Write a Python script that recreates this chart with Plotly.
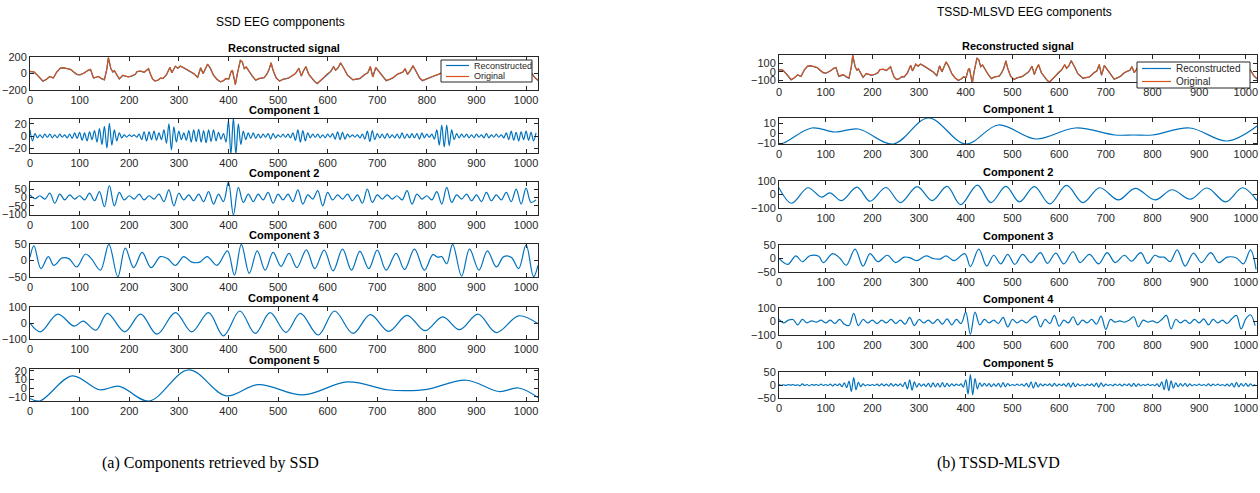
import plotly.graph_objects as go

W, H = 1260, 493

# ---------------- data ----------------
# Reconstructed / original EEG signal (same recording in both panels)
sig_x = [0, 8, 15, 26, 33, 40, 47, 54, 61, 68, 75, 82, 89, 95, 101, 110, 117, 122, 128, 133, 138, 144, 150,
         155, 158, 163, 167, 170, 175, 180, 187, 193, 198, 205, 212, 216, 223, 230, 235, 239, 243, 247, 252,
         258, 263, 268, 275, 279, 282, 286, 290, 293, 298, 303, 310, 321, 330, 338, 344, 349, 353, 358, 363,
         370, 377, 384, 390, 395, 401, 405, 408, 411, 414, 418, 424, 428, 432, 436, 440, 448, 455, 462, 472,
         478, 482, 486, 490, 496, 503, 510, 521, 530, 535, 542, 547, 551, 556, 562, 567, 573, 579, 585, 591,
         598, 606, 612, 616, 621, 626, 633, 640, 651, 658, 665, 675, 681, 686, 691, 697, 704, 711, 718, 725,
         732, 740, 746, 752, 756, 761, 767, 772, 778, 785, 791, 800, 809, 816, 823, 832, 842, 850, 858, 866,
         874, 882, 890, 898, 906, 914, 922, 930, 940, 950, 958, 966, 975, 985, 995, 1003, 1010, 1017, 1024]
original_y = [25, 20, -20, -90, -70, -35, -55, 20, 65, 70, 60, 50, 15, -10, -15, 10, 40, 50, -55, -40, -35, -60, -75,
              60, 195, 60, 20, 35, -10, -65, -20, -30, -40, -30, -10, 25, 30, 15, 40, 60, -10, -65, -90,
              -80, -55, -60, -15, 30, 75, 10, 60, 90, 65, 90, 70, 30, 0, -45, 70, 0, 60, 115, 70,
              -20, -70, -100, -85, -60, -65, 20, 40, -60, -135, 0, 160, 140, 60, 80, 40, -30, -80, -60, -50,
              0, 50, 130, 40, -50, -90, -70, -55, -20, 0, 65, -30, 30, 85, -10, -50, -90, -120, -90, -55,
              -10, 25, 85, 40, 70, 130, 60, -20, -75, -70, -60, -10, 10, 85, -40, 75, 20, -40, -85, -70,
              -50, -10, 10, 20, 60, -10, 40, 95, 30, -50, -85, -60, -40, -25, -10, 20, 45, 10, -20, 30,
              -10, -50, -20, 30, 60, 10, -30, -60, -20, 20, -10, 30, 70, 20, -10, 50, 20, -45, -80]
reconstructed_y = [22, 18, -22, -95, -72, -37, -55, 18, 62, 68, 58, 47, 12, -13, -17, 8, 38, 48, -55, -42, -37, -62, -77,
                   57, 190, 58, 18, 33, -12, -66, -22, -32, -42, -32, -12, 23, 28, 13, 38, 57, -12, -66, -92,
                   -82, -57, -62, -17, 28, 72, 8, 58, 87, 63, 87, 68, 28, -2, -47, 67, -2, 58, 112, 68,
                   -22, -72, -102, -87, -62, -66, 18, 38, -62, -135, -2, 157, 138, 58, 78, 38, -32, -82, -62, -52,
                   -2, 48, 127, 38, -52, -92, -72, -57, -22, -2, 62, -32, 28, 82, -12, -52, -92, -125, -92, -57,
                   -12, 23, 82, 38, 68, 127, 58, -22, -77, -72, -62, -12, 8, 82, -42, 72, 18, -42, -87, -72,
                   -52, -12, 8, 18, 58, -12, 38, 92, 28, -52, -87, -62, -42, -27, -12, 18, 43, 8, -22, 28,
                   -12, -52, -22, 28, 58, 8, -32, -62, -22, 18, -12, 28, 68, 18, -12, 48, 18, -47, -85]

# SSD component 1 (sampled every 5 samples)
ssd_c1_x = list(range(0, 1021, 5))
ssd_c1_y = [10, -8, 4, -3, 2, -3, 3, -2, 3, -3, 2, -3, 3, -2, 2, -3, 3, -4, 5, -4,
            6, -7, 5, -8, 7, -6, 9, -10, 12, -14, 16, -20, 21, -15, 10, -8, 5, -3, 2, -2,
            2, -1, 2, -2, 3, -6, 7, -8, 7, -6, 8, -7, 5, -6, 10, -12, 20, -23, 15, -10,
            8, -6, 5, -7, 9, -10, 10, -9, 11, -10, 9, -11, 10, -9, 10, -8, 6, -5, 4, -10,
            25, -30, 30, -30, 20, -14, 8, -6, 5, -4, 5, -4, 3, -3, 3, -2, 4, -5, 4, -3,
            2, -2, 3, -2, 3, -3, 5, -7, 10, -10, 9, -8, 5, -3, 3, -2, 3, -3, 2, -3,
            3, -2, 4, -5, 7, -6, 6, -5, 3, -2, 2, -2, 2, -3, 3, -5, 8, -9, 9, -6,
            4, -3, 3, -4, 4, -3, 2, -3, 3, -4, 5, -4, 3, -3, 4, -3, 4, -5, 5, -3,
            3, -2, 3, -5, 10, -15, 18, -18, 18, -16, 10, -6, 4, -3, 3, -2, 3, -3, 2, -3,
            3, -2, 2, -3, 4, -3, 2, -2, 3, -2, 2, -3, 5, -6, 8, -7, 6, -8, 7, -6,
            8, -7, 6, -8, 5]

# SSD component 2 (sampled every 10 samples)
ssd_c2_x = list(range(0, 1021, 10))
ssd_c2_y = [15, -8, 10, -10, 25, -35, 20, -15, 15, -10,
            10, -15, 25, -20, 35, -55, 70, -50, 30, -15,
            10, -10, 20, -15, 10, -10, 20, -25, 45, -50,
            25, -15, 15, -20, 20, -25, 35, -40, 20, -25,
            92, -105, 60, -30, 20, -25, 20, -15, 30, -35,
            20, -15, 20, -25, 45, -40, 15, -10, 40, -50,
            30, -15, 15, -10, 20, -20, 15, -35, 50, -30,
            15, -10, 15, -10, 10, -15, 40, -40, 20, -10,
            10, -15, 35, -40, 60, -30, 15, -10, 20, -20,
            15, -25, 30, -20, 15, -15, 30, -25, 50, -40,
            55, -30, -15]

# SSD component 3
ssd_c3_x = [0, 8, 22, 37, 48, 65, 79, 94, 112, 124, 142, 159, 177, 192, 209, 226, 244, 263, 278, 293, 310,
            326, 342, 357, 377, 398, 412, 426, 442, 458, 474, 490, 506, 522, 538, 557, 574, 593, 611, 630,
            648, 665, 683, 700, 718, 738, 755, 775, 795, 812, 822, 830, 840, 852, 870, 886, 905, 922, 940,
            955, 970, 985, 1000, 1015, 1024]
ssd_c3_y = [10, 45, -25, 12, -15, 8, 5, -20, 20, 5, -30, 50, -50, 38, -22, 25, -22, 12, 5, -15, 12,
            -5, -5, 12, -15, 30, -45, 50, -40, 30, -30, 25, -18, 22, -22, 33, -25, 32, -32, 35,
            -30, 28, -25, 32, -30, 22, -28, 35, -30, 18, 10, 12, -10, 50, -48, 35, -30, 30, -20,
            12, 10, -25, 48, -50, -15]

# SSD component 4
ssd_c4_x = [0, 21, 56, 89, 107, 133, 156, 191, 223, 256, 293, 326, 360, 390, 423, 454, 484, 516, 545, 581,
            614, 651, 686, 723, 760, 796, 832, 866, 903, 940, 985, 1024]
ssd_c4_y = [0, -55, 55, -20, 12, -45, 60, -55, 55, -70, 65, -55, 65, -80, 75, -65, 65, -58, 60, -75,
            75, -65, 52, -52, 48, -48, 38, -42, 55, -60, 45, -5]

# SSD component 5
ssd_c5_x = [0, 20, 85, 140, 180, 240, 320, 395, 460, 550, 640, 720, 760, 800, 880, 945, 985, 1024]
ssd_c5_y = [-12, -15, 14, -2, 2, -15, 21, -9, 4, -8, 7, -2, -3, -1.5, 9, -4, 0, -11]

# TSSD-MLSVD component 1
tssd_c1_x = [0, 10, 70, 120, 170, 245, 320, 400, 470, 550, 635, 720, 760, 800, 880, 960, 1024]
tssd_c1_y = [-10.5, -10, 5, 1, 4, -11, 15, -11, 8, -6, 5, -2, -2, -2, 5, -8, 7]

# TSSD-MLSVD component 2
tssd_c2_x = [0, 27, 62, 91, 109, 134, 167, 195, 229, 260, 296, 328, 360, 389, 425, 454, 486, 515, 547, 580,
             616, 651, 687, 727, 763, 806, 842, 881, 917, 957, 993, 1024]
tssd_c2_y = [50, -65, 50, -20, 12, -45, 55, -50, 52, -60, 58, -45, 60, -75, 70, -60, 60, -55, 58, -70,
             68, -60, 50, -40, 45, -40, 35, -35, 48, -55, 50, -45]

# TSSD-MLSVD component 3
tssd_c3_x = [0, 19, 36, 50, 66, 85, 95, 115, 130, 144, 163, 180, 195, 212, 232, 250, 268, 280, 295, 315,
             330, 345, 358, 375, 398, 410, 428, 445, 460, 475, 490, 505, 522, 540, 560, 575, 593, 610, 630,
             645, 665, 685, 703, 720, 740, 755, 775, 790, 805, 815, 825, 838, 853, 870, 888, 905, 925, 942,
             960, 980, 995, 1010, 1022]
tssd_c3_y = [0, -22, 10, -12, 10, 8, -15, 18, 2, -25, 35, -28, 18, -12, 12, -15, 5, 3, -8, 10,
             0, -2, 10, -8, 18, -30, 35, -28, 12, -20, 15, -22, 15, -15, 22, -18, 20, -20, 25,
             -15, 15, -20, 22, -15, 12, -10, 22, -18, 12, 5, 5, -12, 32, -28, 20, -15, 22, -15,
             5, 2, -20, 32, -40]

# TSSD-MLSVD component 4 (sampled every 10 samples)
tssd_c4_x = list(range(0, 1021, 10))
tssd_c4_y = [15, -10, 10, 15, -25, 15, -10, 5, -5, 10,
             -10, 10, -15, 15, -20, -30, 60, -30, 15, -10,
             10, -15, 10, -10, 15, -15, 10, -20, 30, -30,
             15, -10, 10, -15, 15, -20, 20, -25, 15, -15,
             70, -95, 70, -25, 15, -10, 10, -15, 30, -40,
             15, -10, 10, -10, 20, 40, -40, 15, -15, 45,
             -35, 10, -10, 35, -25, 10, -10, 15, -20, 40,
             -60, 15, -5, 5, -5, 10, 35, -40, 10, -5,
             5, -10, 15, 45, -55, 15, -10, 10, -15, 15,
             -10, 20, -25, 15, -10, 10, -15, 20, 45, -55,
             20, 50, -30]

# TSSD-MLSVD component 5 (sampled every 5 samples)
tssd_c5_x = list(range(0, 1021, 5))
tssd_c5_y = [2, -1, 1, -2, 2, -1, 2, -2, 1, -3, 4, -2, 2, -3, 2, -1, 2, -2, 3, -2,
             2, -2, 3, -4, 3, -2, 4, -6, 8, -10, 15, -25, 28, -18, 10, -6, 4, -3, 2, -2,
             2, -2, 3, -3, 4, -3, 3, -4, 5, -4, 3, -3, 4, -6, 10, -15, 20, -20, 12, -8,
             5, -4, 3, -5, 6, -8, 8, -7, 6, -8, 9, -7, 6, -5, 4, -3, 3, -2, 4, -8,
             20, -35, 40, -38, 25, -15, 8, -5, 6, -4, 5, -6, 4, -5, 6, -8, 9, -7, 5, -3,
             2, -2, 3, -2, 3, -4, 6, -8, 12, -12, 10, -7, 4, -3, 3, -2, 4, -5, 6, -4,
             3, -2, 4, -5, 7, -8, 8, -6, 4, -3, 2, -3, 3, -2, 4, -5, 7, -8, 8, -5,
             3, -2, 2, -3, 3, -2, 3, -4, 3, -2, 4, -5, 6, -5, 4, -3, 2, -2, 3, -2,
             2, -3, 4, -6, 12, -18, 22, -22, 16, -12, 8, -6, 5, -4, 6, -5, 4, -3, 2, -2,
             3, -2, 2, -3, 4, -3, 3, -2, 3, -2, 2, -3, 3, -4, 6, -8, 10, -7, 5, -4,
             6, -5, 4, -3, 2]

subplot_titles = ["Reconstructed signal", "Component 1", "Component 2",
                  "Component 3", "Component 4", "Component 5"]
legend_labels = ["Reconstructed", "Original"]
x_ticks = [0, 100, 200, 300, 400, 500, 600, 700, 800, 900, 1000]

# ---------------- layout spec ----------------
BLUE = "#0072BD"
ORANGE = "#D95319"
AX = "#262626"
FONT = "Liberation Sans, Arial, sans-serif"

left_xdom = (30 / W, 538 / W)
right_xdom = (779 / W, 1257 / W)
left_rows = [(57, 90), (119, 153), (182, 215), (244, 277), (307, 339), (369, 401)]
right_rows = [(55, 82), (118, 144), (181, 208), (245, 272), (308, 335), (372, 398)]

left_ranges = [[-200, 200], [-28, 28], [-105, 92], [-51, 51], [-100, 100], [-15, 22]]
left_ticks = [[-200, 0, 200], [-20, 0, 20], [-100, -50, 0, 50], [-50, 0, 50], [-100, 0, 100], [-10, 0, 10, 20]]
right_ranges = [[-120, 195], [-11, 15], [-100, 100], [-50, 50], [-100, 100], [-50, 50]]
right_ticks = [[-100, 0, 100], [-10, 0, 10], [-100, 0, 100], [-50, 0, 50], [-100, 0, 100], [-50, 0, 50]]

left_series = [None, (ssd_c1_x, ssd_c1_y), (ssd_c2_x, ssd_c2_y), (ssd_c3_x, ssd_c3_y),
               (ssd_c4_x, ssd_c4_y), (ssd_c5_x, ssd_c5_y)]
right_series = [None, (tssd_c1_x, tssd_c1_y), (tssd_c2_x, tssd_c2_y), (tssd_c3_x, tssd_c3_y),
                (tssd_c4_x, tssd_c4_y), (tssd_c5_x, tssd_c5_y)]

# legend boxes (pixel boxes: left, top, right, bottom), font size, sample length
legend_boxes = [((441, 60, 532, 82), 9, 23), ((1137, 62, 1250, 88), 10, 29)]

fig = go.Figure()
layout = {}
annotations = []
shapes = []


def py(p):
    return 1 - p / H


def px(p):
    return p / W


ax_i = 0
for side, xdom, rows, ranges, ticks, series in [
        ("L", left_xdom, left_rows, left_ranges, left_ticks, left_series),
        ("R", right_xdom, right_rows, right_ranges, right_ticks, right_series)]:
    for r in range(6):
        ax_i += 1
        xa = "x" if ax_i == 1 else f"x{ax_i}"
        ya = "y" if ax_i == 1 else f"y{ax_i}"
        xkey = "xaxis" if ax_i == 1 else f"xaxis{ax_i}"
        ykey = "yaxis" if ax_i == 1 else f"yaxis{ax_i}"
        top, bot = rows[r]
        common = dict(showline=True, linecolor=AX, linewidth=1, mirror="ticks", automargin=False,
                      ticks="inside", ticklen=4, tickcolor=AX, showgrid=False, zeroline=False,
                      tickfont=dict(family=FONT, size=11, color=AX))
        layout[xkey] = dict(domain=list(xdom), anchor=ya, range=[0, 1024], tickvals=x_ticks, **common)
        layout[ykey] = dict(domain=[py(bot), py(top)], anchor=xa, range=ranges[r], tickvals=ticks[r], **common)
        if r == 0:
            fig.add_trace(go.Scatter(x=sig_x, y=reconstructed_y, mode="lines", name=legend_labels[0],
                                     line=dict(color=BLUE, width=1.2), xaxis=xa, yaxis=ya,
                                     showlegend=False))
            fig.add_trace(go.Scatter(x=sig_x, y=original_y, mode="lines", name=legend_labels[1],
                                     line=dict(color=ORANGE, width=1.2), xaxis=xa, yaxis=ya,
                                     showlegend=False))
        else:
            sx, sy = series[r]
            fig.add_trace(go.Scatter(x=sx, y=sy, mode="lines", showlegend=False,
                                     line=dict(color=BLUE, width=1.2, shape="spline", smoothing=1),
                                     xaxis=xa, yaxis=ya))
        annotations.append(dict(text=f"<b>{subplot_titles[r]}</b>", xref="paper", yref="paper",
                                x=(xdom[0] + xdom[1]) / 2, y=py(top - 1), xanchor="center", yanchor="bottom",
                                showarrow=False, font=dict(family=FONT, size=11, color="black")))

# legends drawn as decoration (box + line samples + labels)
for (l, t, rr, b), fs, slen in legend_boxes:
    shapes.append(dict(type="rect", xref="paper", yref="paper", x0=px(l), x1=px(rr), y0=py(b), y1=py(t),
                       line=dict(color=AX, width=1), fillcolor="white", layer="above"))
    step = (b - t) / 2
    for k, (lab, col) in enumerate(zip(legend_labels, [BLUE, ORANGE])):
        yc = t + step * (k + 0.5)
        shapes.append(dict(type="line", xref="paper", yref="paper", x0=px(l + 5), x1=px(l + 5 + slen),
                           y0=py(yc), y1=py(yc), line=dict(color=col, width=1.2), layer="above"))
        annotations.append(dict(text=lab, xref="paper", yref="paper", x=px(l + 8 + slen), y=py(yc),
                                xanchor="left", yanchor="middle", showarrow=False,
                                font=dict(family=FONT, size=fs, color=AX)))

annotations.append(dict(text="SSD EEG compponents", xref="paper", yref="paper", x=280 / W, y=py(22),
                        xanchor="center", yanchor="middle", showarrow=False,
                        font=dict(family=FONT, size=12, color="black")))
annotations.append(dict(text="TSSD-MLSVD EEG components", xref="paper", yref="paper", x=1024 / W, y=py(12),
                        xanchor="center", yanchor="middle", showarrow=False,
                        font=dict(family=FONT, size=12, color="black")))
annotations.append(dict(text="(a) Components retrieved by SSD", xref="paper", yref="paper", x=210 / W,
                        y=py(463), xanchor="center", yanchor="middle", showarrow=False,
                        font=dict(family="Liberation Serif, Times New Roman, serif", size=16, color="black")))
annotations.append(dict(text="(b) TSSD-MLSVD", xref="paper", yref="paper", x=998 / W,
                        y=py(463), xanchor="center", yanchor="middle", showarrow=False,
                        font=dict(family="Liberation Serif, Times New Roman, serif", size=16, color="black")))

fig.update_layout(width=W, height=H, margin=dict(l=0, r=0, t=0, b=0, autoexpand=False),
                  paper_bgcolor="white", plot_bgcolor="white", annotations=annotations, shapes=shapes,
                  showlegend=False, **layout)

fig.write_html("out.html", config={"displayModeBar": False},
               post_script="document.body.style.margin='0px';document.body.style.overflow='hidden';")
